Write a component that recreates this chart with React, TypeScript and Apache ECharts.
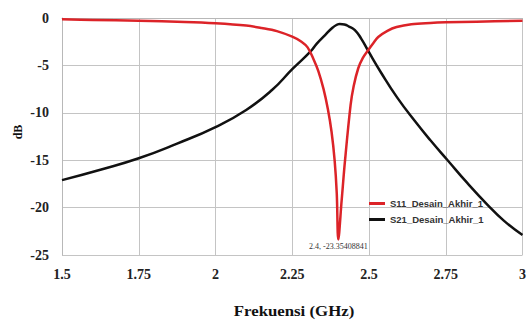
import React, { useEffect, useRef } from "react";
import * as echarts from "echarts";

const xTicks = [1.5, 1.75, 2, 2.25, 2.5, 2.75, 3];
const yTicks = [-25, -20, -15, -10, -5, 0];

const freqS11 = [1.5, 1.6, 1.75, 1.9, 2.0, 2.1, 2.15, 2.2, 2.25, 2.28, 2.3, 2.32, 2.335, 2.352, 2.366, 2.378, 2.388, 2.395, 2.4, 2.411, 2.422, 2.44, 2.45, 2.465, 2.48, 2.497, 2.515, 2.53, 2.56, 2.59, 2.638, 2.7, 2.75, 2.85, 3.0];
const s11 = [-0.14, -0.2, -0.3, -0.42, -0.56, -0.8, -1.05, -1.38, -1.97, -2.5, -3.1, -4.4, -5.6, -7.5, -9.6, -12.0, -15.0, -18.5, -23.35408841, -19.2, -15.0, -9.2, -7.2, -5.3, -4.2, -3.4, -2.6, -2.0, -1.35, -0.95, -0.65, -0.52, -0.46, -0.39, -0.28];

const freqS21 = [1.5, 1.625, 1.75, 1.875, 2.0, 2.1, 2.184, 2.25, 2.309, 2.33, 2.357, 2.38, 2.395, 2.405, 2.42, 2.435, 2.454, 2.475, 2.497, 2.54, 2.592, 2.65, 2.7, 2.756, 2.82, 2.886, 2.94, 3.0];
const s21 = [-17.1, -16.0, -14.8, -13.25, -11.5, -9.7, -7.6, -5.4, -3.55, -2.7, -1.8, -1.05, -0.72, -0.62, -0.68, -0.9, -1.27, -2.2, -3.45, -5.8, -8.4, -10.9, -12.9, -15.0, -17.4, -19.7, -21.4, -22.9];

const seriesNames = ["S11_Desain_Akhir_1", "S21_Desain_Akhir_1"];
const xTitle = "Frekuensi (GHz)";
const yTitle = "dB";

export default function App() {
  const ref = useRef<HTMLDivElement>(null);
  useEffect(() => {
    if (!ref.current) return;
    const chart = echarts.init(ref.current, undefined, { renderer: "svg" });
    const minIdx = s11.indexOf(Math.min(...s11));
    const serif = "'Liberation Serif', 'Times New Roman', serif";
    const s11Data = freqS11.map((f, i) =>
      i === minIdx
        ? {
            value: [f, s11[i]],
            label: {
              show: true,
              position: "bottom",
              distance: 3,
              formatter: (p: any) => `${p.value[0]}, ${p.value[1]}`,
              fontFamily: serif,
              fontWeight: "normal",
              fontSize: 8,
              color: "#333333",
            },
          }
        : [f, s11[i]]
    );
    const s21Data = freqS21.map((f, i) => [f, s21[i]]);
    chart.setOption({
      animation: false,
      backgroundColor: "#ffffff",
      textStyle: { fontFamily: serif },
      grid: { left: 62, right: 4, top: 18, bottom: 65, containLabel: false },
      xAxis: {
        type: "value",
        min: xTicks[0],
        max: xTicks[xTicks.length - 1],
        interval: 0.25,
        axisLine: { show: true, lineStyle: { color: "#b8b8b8", width: 1 } },
        axisTick: { show: false },
        splitLine: { show: true, lineStyle: { color: "#c4c4c4", width: 1 } },
        axisLabel: {
          margin: 12,
          fontFamily: serif,
          fontWeight: "bold",
          fontSize: 14,
          color: "#222",
        },
      },
      yAxis: {
        type: "value",
        min: yTicks[0],
        max: yTicks[yTicks.length - 1],
        interval: 5,
        axisLine: { show: true, lineStyle: { color: "#b8b8b8", width: 1 } },
        axisTick: { show: false },
        splitLine: { show: true, lineStyle: { color: "#c4c4c4", width: 1 } },
        axisLabel: {
          margin: 13,
          fontFamily: serif,
          fontWeight: "bold",
          fontSize: 14,
          color: "#222",
        },
      },
      legend: {
        orient: "vertical",
        left: 364,
        top: 192,
        itemWidth: 16,
        itemHeight: 3,
        itemGap: 3,
        icon: "rect",
        data: seriesNames,
        textStyle: {
          fontFamily: "'Liberation Sans', Arial, sans-serif",
          fontWeight: "bold",
          fontSize: 9.5,
          lineHeight: 13,
          color: "#333",
        },
      },
      graphic: [
        {
          type: "text",
          x: 294,
          y: 311,
          scaleX: 1.2,
          style: {
            text: xTitle,
            fontFamily: serif,
            fontWeight: "bold",
            fontSize: 14,
            fill: "#111",
            align: "center",
            verticalAlign: "middle",
          },
        },
        {
          type: "text",
          x: 18,
          y: 132,
          rotation: Math.PI / 2,
          style: {
            text: yTitle,
            fontFamily: serif,
            fontWeight: "bold",
            fontSize: 12,
            fill: "#111",
            align: "center",
            verticalAlign: "middle",
          },
        },
      ],
      series: [
        {
          name: seriesNames[0],
          type: "line",
          data: s11Data,
          showSymbol: true,
          symbol: "circle",
          symbolSize: 0,
          smooth: 0.35,
          color: "#dc2328",
          lineStyle: { color: "#dc2328", width: 2.5 },
          z: 3,
        },
        {
          name: seriesNames[1],
          type: "line",
          data: s21Data,
          showSymbol: false,
          symbol: "none",
          smooth: 0.5,
          color: "#111111",
          lineStyle: { color: "#111111", width: 2.5 },
          z: 2,
        },
      ],
    });
    return () => chart.dispose();
  }, []);
  return (
    <div
      ref={ref}
      style={{ position: "fixed", left: 0, top: 0, width: 529, height: 320 }}
    />
  );
}
